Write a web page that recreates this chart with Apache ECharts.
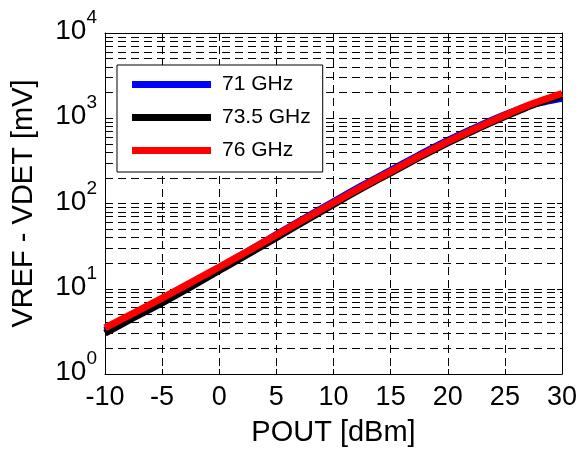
<!DOCTYPE html>
<html><head><meta charset="utf-8">
<script src="https://cdn.jsdelivr.net/npm/echarts@6/dist/echarts.min.js"></script>
<style>html,body{margin:0;padding:0;background:#fff}#c{width:581px;height:452px}</style>
</head><body><div id="c"></div>
<script>
// POUT [dBm]
const pout = [-10, -7.5, -5, -2.5, 0, 2.5, 5, 7.5, 10, 12.5, 15, 17.5, 20, 22.5, 25, 27.5, 30];
// VREF - VDET [mV]
const v71  = [3.24, 4.90, 7.33, 11.2, 17.6, 27.5, 43.2, 67.6, 105, 162, 245, 371, 549, 785, 1096, 1462, 1718];
const v735 = [3.02, 4.57, 6.84, 10.5, 16.4, 25.4, 39.8, 62.4, 97.7, 151, 229, 347, 513, 741, 1047, 1445, 1841];
const v76  = [3.47, 5.19, 7.76, 11.8, 18.0, 27.5, 42.7, 66.1, 102, 157, 237, 359, 531, 767, 1084, 1496, 1950];
const seriesNames = ['71 GHz', '73.5 GHz', '76 GHz'];
const seriesColors = ['#0000ff', '#000000', '#ff0000'];
const xTickValues = [-10, -5, 0, 5, 10, 15, 20, 25, 30];
const yMinorGrid = [2,3,4,5,6,7,8,9, 20,30,40,50,60,70,80,90, 200,300,400,500,600,700,800,900, 2000,3000,4000,5000,6000,7000,8000,9000];

const FONT = 'Liberation Sans, Arial, sans-serif';
const dash = [8, 5];
const chart = echarts.init(document.getElementById('c'), null, {renderer: 'canvas'});

const curves = [v71, v735, v76].map((vals, i) => ({
  name: seriesNames[i],
  type: 'line',
  data: pout.map((x, j) => [x, vals[j]]),
  showSymbol: false,
  smooth: 0.2,
  lineStyle: {color: seriesColors[i], width: 7},
  itemStyle: {color: seriesColors[i]},
  z: 3 + i,
  silent: true
}));

chart.setOption({
  animation: false,
  backgroundColor: '#fff',
  grid: {left: 105, right: 19, top: 33, bottom: 78, show: false},
  legend: {
    data: seriesNames,
    orient: 'vertical',
    left: 117, top: 65,
    backgroundColor: '#fff',
    borderColor: '#000', borderWidth: 1,
    padding: [9, 12, 11, 15],
    itemWidth: 79, itemHeight: 7, itemGap: 12,
    icon: 'rect',
    textStyle: {fontFamily: FONT, fontSize: 21, color: '#000', lineHeight: 21, padding: [0, 0, 0, 6]},
    selectedMode: false,
    z: 10
  },
  xAxis: [{
    type: 'value', min: -10, max: 30, interval: 5,
    name: 'POUT [dBm]', nameLocation: 'middle', nameGap: 44,
    nameTextStyle: {fontFamily: FONT, fontSize: 29, color: '#000'},
    axisLine: {show: true, onZero: false, lineStyle: {color: '#000', width: 1}},
    axisTick: {show: true, inside: true, length: 5, lineStyle: {color: '#000'}},
    axisLabel: {fontFamily: FONT, fontSize: 27, color: '#000', margin: 10,
      formatter: v => xTickValues.includes(v) ? String(v) : ''},
    splitLine: {show: true, lineStyle: {color: '#000', width: 1, type: dash}}
  }, {
    type: 'value', min: -10, max: 30, interval: 5, position: 'top',
    axisLine: {show: true, onZero: false, lineStyle: {color: '#000', width: 1}},
    axisTick: {show: true, inside: true, length: 5, lineStyle: {color: '#000'}},
    axisLabel: {show: false}, splitLine: {show: false}
  }],
  yAxis: [{
    type: 'log', logBase: 10, min: 1, max: 10000, splitNumber: 4,
    name: 'VREF - VDET [mV]', nameLocation: 'middle', nameGap: 67, nameRotate: 90,
    nameTextStyle: {fontFamily: FONT, fontSize: 29, color: '#000'},
    axisLine: {show: true, onZero: false, lineStyle: {color: '#000', width: 1}},
    axisTick: {show: true, inside: true, length: 5, lineStyle: {color: '#000'}},
    axisLabel: {
      margin: 8,
      formatter: v => '{b|10}{s|' + Math.round(Math.log10(v)) + '}',
      rich: {
        b: {fontFamily: FONT, fontSize: 28, color: '#000', lineHeight: 28, padding: [9, 0, 12, 0]},
        s: {fontFamily: FONT, fontSize: 19, color: '#000', lineHeight: 19, padding: [0, 0, 30, 0]}
      }
    },
    splitLine: {show: true, lineStyle: {color: '#000', width: 1, type: dash}}
  }, {
    type: 'log', logBase: 10, min: 1, max: 10000, splitNumber: 4, position: 'right',
    axisLine: {show: true, onZero: false, lineStyle: {color: '#000', width: 1}},
    axisTick: {show: true, inside: true, length: 5, lineStyle: {color: '#000'}},
    axisLabel: {show: false}, splitLine: {show: false}
  }],
  series: [{
    type: 'line', data: [], silent: true, z: 1,
    markLine: {
      silent: true, symbol: ['none', 'none'], animation: false,
      label: {show: false},
      lineStyle: {color: '#000', width: 1, type: dash},
      emphasis: {disabled: true},
      data: yMinorGrid.map(v => ({yAxis: v}))
    }
  }].concat(curves)
});
</script></body></html>
